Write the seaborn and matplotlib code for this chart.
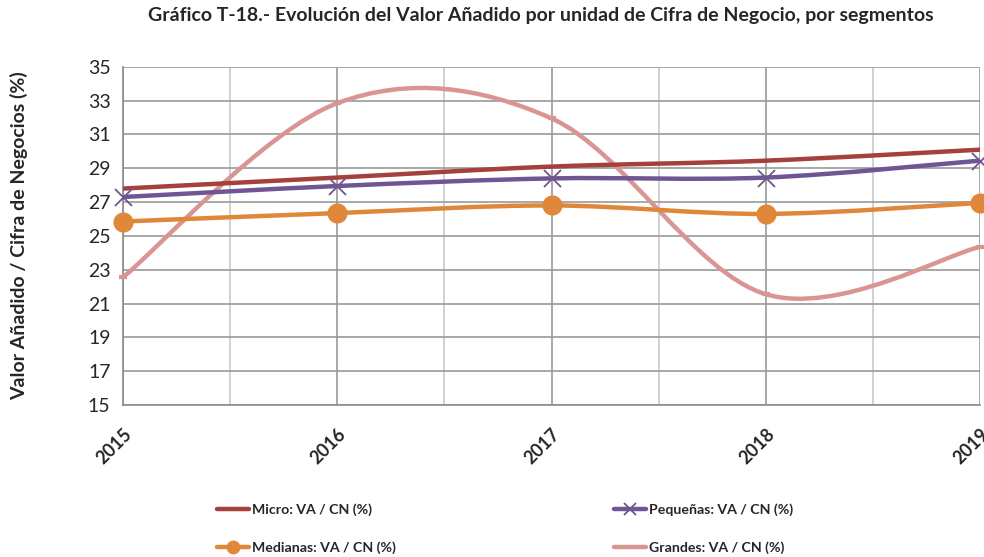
import numpy as np
import pandas as pd
import matplotlib
matplotlib.use('Agg')
import matplotlib.pyplot as plt
from matplotlib.path import Path
from matplotlib.patches import PathPatch
from matplotlib.lines import Line2D
import seaborn as sns

# Datos
years = [2015, 2016, 2017, 2018, 2019]
micro = [27.8, 28.45, 29.1, 29.45, 30.1]
pequenas = [27.3, 27.95, 28.4, 28.45, 29.45]
medianas = [25.85, 26.35, 26.8, 26.3, 26.95]
grandes = [22.55, 32.85, 31.95, 21.55, 24.35]

labels = ['Micro: VA / CN (%)', 'Pequeñas: VA / CN (%)',
          'Medianas: VA / CN (%)', 'Grandes: VA / CN (%)']
colors = ['#A5403D', '#6F5591', '#E0873A', '#D99594']

sns.set_style('white')
plt.rcParams['font.family'] = ['Lato', 'DejaVu Sans']

df = pd.DataFrame({'year': years, labels[0]: micro, labels[1]: pequenas,
                   labels[2]: medianas, labels[3]: grandes})
long = df.melt(id_vars='year', var_name='serie', value_name='valor')

fig = plt.figure(figsize=(9.84, 5.57), dpi=100)
ax = fig.add_axes([0.125, 0.273, 0.871, 0.607])


def smooth_path(x, y):
    # curva suavizada tipo Excel (Bezier con puntos de control Catmull-Rom)
    pts = np.column_stack([x, y]).astype(float)
    ext = np.vstack([pts[0], pts, pts[-1]])
    verts = [pts[0]]
    codes = [Path.MOVETO]
    for i in range(1, len(ext) - 2):
        p0, p1, p2, p3 = ext[i - 1], ext[i], ext[i + 1], ext[i + 2]
        c1 = p1 + (p2 - p0) / 6
        c2 = p2 - (p3 - p1) / 6
        verts += [c1, c2, p2]
        codes += [Path.CURVE4] * 3
    return Path(verts, codes)


# grid
ax.set_xlim(2015, 2019)
ax.set_ylim(15, 35)
ax.set_yticks(range(15, 36, 2))
ax.set_xticks(years)
ax.set_xticks(np.arange(2015.5, 2019, 1), minor=True)
ax.grid(True, which='major', axis='both', color='#9a9a9a', lw=1.2, zorder=0)
ax.grid(True, which='minor', axis='x', color='#c8c8c8', lw=1.2, zorder=0)
for s in ['top', 'right']:
    ax.spines[s].set_visible(False)
for s in ['left', 'bottom']:
    ax.spines[s].set_color('#8a8a8a')
    ax.spines[s].set_linewidth(1.2)
ax.tick_params(axis='y', which='major', length=5, color='#8a8a8a', labelsize=14, pad=4)
ax.tick_params(axis='x', which='major', length=5, color='#8a8a8a', labelsize=13, pad=10)
ax.tick_params(axis='x', which='minor', length=0)
ax.set_xticklabels([str(y) for y in years], rotation=45, ha='right',
                   rotation_mode='anchor', fontweight='bold')

series = [micro, pequenas, medianas, grandes]
for vals, col, z in zip(series, colors, [4, 5, 6, 3]):
    patch = PathPatch(smooth_path(years, vals), facecolor='none', edgecolor=col,
                      lw=3.2, zorder=z, capstyle='butt')
    ax.add_patch(patch)

# marcadores
sub = long[long['serie'] == labels[1]]
sns.scatterplot(data=sub, x='year', y='valor', marker='x', s=150, color=colors[1],
                linewidth=1.3, ax=ax, zorder=7, legend=False, clip_on=False)
sub = long[long['serie'] == labels[2]]
sns.scatterplot(data=sub, x='year', y='valor', marker='o', s=210, color=colors[2],
                linewidth=0, ax=ax, zorder=7, legend=False, clip_on=False)
sub = long[long['serie'] == labels[3]]
sns.scatterplot(data=sub, x='year', y='valor', marker='_', s=30, color=colors[3],
                linewidth=3, ax=ax, zorder=7, legend=False, clip_on=False)

ax.set_xlabel('')
ax.set_ylabel('Valor Añadido / Cifra de Negocios (%)', fontsize=14,
              fontweight='bold')
ax.yaxis.set_label_coords(-0.111, 0.5)

fig.suptitle('Gráfico T-18.- Evolución del Valor Añadido por unidad de Cifra de Negocio, por segmentos',
             fontsize=14, fontweight='bold', x=0.55, y=0.987)

handles = {
    labels[0]: Line2D([], [], color=colors[0], lw=3.2),
    labels[1]: Line2D([], [], color=colors[1], lw=3.2, marker='x', ms=8, mew=1.3),
    labels[2]: Line2D([], [], color=colors[2], lw=3.2, marker='o', ms=10, mew=0),
    labels[3]: Line2D([], [], color=colors[3], lw=3.2),
}
order = [labels[0], labels[2], labels[1], labels[3]]
fig.legend([handles[k] for k in order], order, ncol=2, loc='upper left',
           bbox_to_anchor=(0.208, 0.119), frameon=False, handlelength=2.26,
           handletextpad=0.2, columnspacing=15.4, labelspacing=1.75,
           prop={'weight': 'bold', 'size': 10.2})

fig.savefig('out.png', dpi=100)
